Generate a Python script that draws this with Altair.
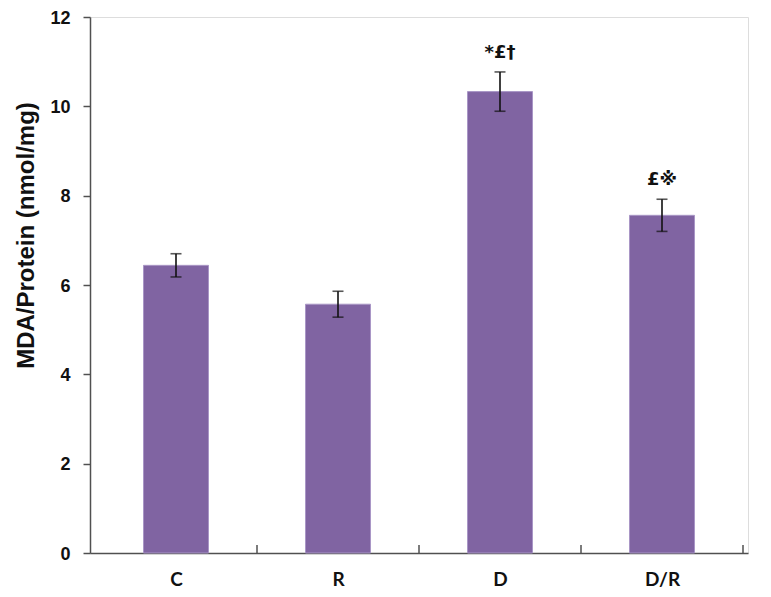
import altair as alt
import pandas as pd

categories = ["C", "R", "D", "D/R"]
means = [6.44, 5.57, 10.33, 7.56]
errors = [0.26, 0.29, 0.44, 0.36]
annotations = ["", "", "*£†", "£※"]
y_ticks = [0, 2, 4, 6, 8, 10, 12]
boundaries = [1, 2, 3, 4]

df = pd.DataFrame({
    "cat": categories,
    "pos": [i + 0.5 for i in range(len(categories))],
    "mean": means,
    "err": errors,
    "ann": annotations,
})
df["lo"] = df["mean"] - df["err"]
df["hi"] = df["mean"] + df["err"]

W, H = 658, 536
label_expr = "[" + ",".join("'" + c + "'" for c in categories) + "][floor(datum.value)]"

xscale = alt.Scale(domain=[0, 4], nice=False, zero=False)
yscale = alt.Scale(domain=[0, 12], nice=False)

base = alt.Chart(df)

bars = base.mark_bar(color="#8064A2", size=65, stroke="#A996C6", strokeWidth=1).encode(
    x=alt.X("pos:Q", scale=xscale, axis=alt.Axis(
        values=[0.5, 1.5, 2.5, 3.5], labelExpr=label_expr, ticks=False, grid=False,
        title=None, domainColor="#505050", domainWidth=1.5,
        labelFont="Lato", labelFontWeight="bold", labelFontSize=19,
        labelColor="#111111", labelPadding=32, labelBaseline="alphabetic")),
    y=alt.Y("mean:Q", scale=yscale, axis=alt.Axis(
        values=y_ticks, grid=False, title="MDA/Protein (nmol/mg)",
        titleFont="Liberation Sans", titleFontSize=24, titleFontWeight="bold",
        titleColor="#111111", titleAngle=-90, titleX=-64, titleY=218,
        titleAlign="center", titleBaseline="middle",
        labelFont="Liberation Sans", labelFontSize=18, labelFontWeight="bold",
        labelColor="#111111", labelPadding=13, labelOffset=1, tickSize=7, tickColor="#505050",
        tickWidth=1.5, domainColor="#505050", domainWidth=1.5)),
)

err_rule = base.mark_rule(color="#111111", strokeWidth=1.6).encode(
    x="pos:Q", y="lo:Q", y2="hi:Q")
cap_hi = base.mark_tick(color="#111111", thickness=1.6, size=11, orient="horizontal").encode(
    x="pos:Q", y="hi:Q")
cap_lo = base.mark_tick(color="#111111", thickness=1.6, size=11, orient="horizontal").encode(
    x="pos:Q", y="lo:Q")

text = base.transform_filter("datum.ann != ''").mark_text(
    font="DejaVu Sans", fontSize=18, fontWeight="bold", baseline="alphabetic",
    dy=-14, color="#111111").encode(x="pos:Q", y="hi:Q", text="ann:N")

ticks_df = pd.DataFrame({"b": boundaries})
xticks = alt.Chart(ticks_df).mark_rule(color="#505050", strokeWidth=1.5).encode(
    x=alt.X("b:Q", scale=xscale),
    y=alt.datum(0),
    y2=alt.datum(0.18),
)

chart = alt.layer(bars, err_rule, cap_hi, cap_lo, text, xticks).properties(
    width=W, height=H,
    autosize=alt.AutoSizeParams(type="none"),
    padding={"left": 82, "top": 9, "right": 15, "bottom": 36},
).configure_view(stroke=None).configure(background="white")

chart.save("out.html", embed_options={"renderer": "svg", "actions": False})
